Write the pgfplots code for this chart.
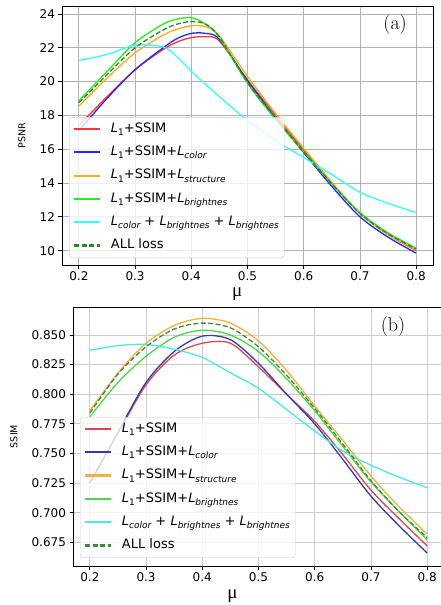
\documentclass[border=0pt]{standalone}
\usepackage{pgfplots}
\pgfplotsset{compat=1.18}
\usepackage{fontspec}
\setsansfont{DejaVu Sans}
\newfontfamily\muserif{Liberation Serif}

\definecolor{cR}{HTML}{FF3333}
\definecolor{cB}{HTML}{2828F0}
\definecolor{cO}{HTML}{FFA820}
\definecolor{cG}{HTML}{22EE22}
\definecolor{cC}{HTML}{33FFFF}
\definecolor{cD}{HTML}{2A8A2A}
\definecolor{bR}{HTML}{D84A4A}
\definecolor{bB}{HTML}{3A3AA8}
\definecolor{bO}{HTML}{F0B040}
\definecolor{bG}{HTML}{4AD84A}
\definecolor{bC}{HTML}{4AE8E8}
\definecolor{bD}{HTML}{408A40}

\newcommand{\Lone}{\textit{L}\raisebox{-0.45ex}{\fontsize{9}{10}\selectfont 1}}
\newcommand{\Lsub}[1]{\textit{L}\raisebox{-0.45ex}{\fontsize{9}{10}\selectfont\itshape #1}}

% PSNR curves (a)
\pgfplotstableread{
x     red    blue   orange green  cyan   all
0.20  17.40  17.10  18.55  18.85  21.25  18.75
0.25  19.10  19.00  20.20  20.60  21.60  20.40
0.30  20.70  20.70  21.70  22.30  22.15  22.00
0.35  21.90  22.00  22.75  23.40  22.05  23.05
0.375 22.35  22.55  23.10  23.70  21.45  23.40
0.40  22.60  22.85  23.30  23.78  20.60  23.55
0.425 22.65  22.85  23.25  23.40  19.85  23.40
0.45  22.40  22.50  22.70  22.60  19.10  22.65
0.50  20.10  20.05  20.30  19.90  17.70  19.95
0.55  18.00  17.85  18.10  17.75  16.50  17.85
0.60  15.95  15.80  16.05  15.85  15.50  15.85
0.65  14.00  13.80  14.05  13.95  14.50  13.95
0.70  12.20  12.00  12.20  12.25  13.45  12.20
0.75  10.95  10.80  10.95  11.05  12.80  11.00
0.80  10.00   9.85  10.05  10.15  12.25  10.10
}\psnr

% SSIM curves (b)
\pgfplotstableread{
x    red    blue   orange green  cyan   all
0.20 0.725  0.725  0.786  0.781  0.837  0.784
0.25 0.767  0.768  0.818  0.810  0.841  0.817
0.30 0.808  0.810  0.843  0.832  0.842  0.840
0.35 0.833  0.836  0.858  0.848  0.838  0.855
0.40 0.843  0.849  0.864  0.854  0.831  0.860
0.45 0.843  0.846  0.860  0.850  0.818  0.856
0.50 0.823  0.826  0.845  0.836  0.805  0.840
0.55 0.800  0.800  0.820  0.813  0.787  0.816
0.60 0.777  0.775  0.790  0.786  0.769  0.788
0.65 0.749  0.745  0.761  0.756  0.752  0.758
0.70 0.719  0.714  0.731  0.726  0.740  0.727
0.75 0.695  0.689  0.705  0.701  0.730  0.701
0.80 0.672  0.666  0.682  0.677  0.721  0.679
}\ssim

\pgfplotsset{
  panel/.style={
    scale only axis, width=371pt, height=259pt,
    xmin=0.17, xmax=0.83,
    xtick={0.2,0.3,0.4,0.5,0.6,0.7,0.8},
    xticklabel style={/pgf/number format/.cd, fixed, precision=1},
    grid=major,
    axis line style={line width=0.9pt},
    tick align=outside, tick pos=left, major tick length=3.5pt,
    tick style={black, line width=0.8pt},
    ticklabel style={font=\fontsize{12}{14}\sffamily},
    /pgf/number format/assume math mode=true,
    ylabel style={font=\fontsize{9.5}{11}\sffamily, anchor=center},
    xlabel style={font=\fontsize{19}{21}\muserif, anchor=center},
    legend cell align=left,
    legend image code/.code={\draw[##1, line width=2.2pt] (0pt,0.3pt) -- (26pt,0.3pt);},
    legend style={anchor=south west, draw=black!20, fill=white,
      fill opacity=0.8, text opacity=1, rounded corners=3pt,
      font=\fontsize{13}{15}\sffamily, row sep=7.3pt, column sep=8pt,
      inner sep=4pt,
      nodes={inner sep=1.5pt, text height=9.5pt, text depth=3.5pt}},
    every axis plot/.append style={line width=1.3pt, smooth},
  }
}

\begin{document}
\begin{tikzpicture}
\useasboundingbox (0,0) rectangle (441pt,-605pt);

\begin{axis}[panel,
  at={(62pt,-265pt)}, anchor=south west,
  ymin=9.15, ymax=24.47,
  ytick={10,12,14,16,18,20,22,24},
  major grid style={black!30, line width=0.8pt},
  ylabel={PSNR}, ylabel style={at={(axis description cs:-0.108,0.5)}},
  xlabel={μ}, xlabel style={at={(axis description cs:0.472,-0.112)}},
  legend style={at={(0.019,0.027)}},
]
\addplot[cR] table[y=red] {\psnr};
\addlegendentry{\Lone+SSIM}
\addplot[cB] table[y=blue] {\psnr};
\addlegendentry{\Lone+SSIM+\Lsub{color}}
\addplot[cO] table[y=orange] {\psnr};
\addlegendentry{\Lone+SSIM+\Lsub{structure}}
\addplot[cG] table[y=green] {\psnr};
\addlegendentry{\Lone+SSIM+\Lsub{brightnes}}
\addplot[cC] table[y=cyan] {\psnr};
\addlegendentry{\Lsub{color} + \Lsub{brightnes} + \Lsub{brightnes}}
\addplot[cD, dash pattern=on 5pt off 2.4pt] table[y=all] {\psnr};
\addlegendentry{ALL loss}
\node[font=\fontsize{20}{22}\rmfamily] at (axis description cs:0.898,0.927) {(a)};
\end{axis}

\begin{axis}[panel,
  at={(73pt,-566pt)}, anchor=south west,
  ymin=0.655, ymax=0.8736,
  ytick={0.675,0.700,0.725,0.750,0.775,0.800,0.825,0.850},
  yticklabel style={/pgf/number format/.cd, fixed, fixed zerofill, precision=3},
  major grid style={black!20, line width=0.8pt},
  ylabel={SSIM}, ylabel style={at={(axis description cs:-0.159,0.5)}},
  xlabel={μ}, xlabel style={at={(axis description cs:0.43,-0.115)}},
  legend style={at={(0.019,0.031)}},
]
\addplot[bR] table[y=red] {\ssim};
\addlegendentry{\Lone+SSIM}
\addplot[bB] table[y=blue] {\ssim};
\addlegendentry{\Lone+SSIM+\Lsub{color}}
\addplot[bO] table[y=orange] {\ssim};
\addlegendentry{\Lone+SSIM+\Lsub{structure}}
\addplot[bG] table[y=green] {\ssim};
\addlegendentry{\Lone+SSIM+\Lsub{brightnes}}
\addplot[bC] table[y=cyan] {\ssim};
\addlegendentry{\Lsub{color} + \Lsub{brightnes} + \Lsub{brightnes}}
\addplot[bD, dash pattern=on 5pt off 2.4pt] table[y=all] {\ssim};
\addlegendentry{ALL loss}
\node[font=\fontsize{20}{22}\rmfamily] at (axis description cs:0.8625,0.923) {(b)};
\end{axis}
\end{tikzpicture}
\end{document}
